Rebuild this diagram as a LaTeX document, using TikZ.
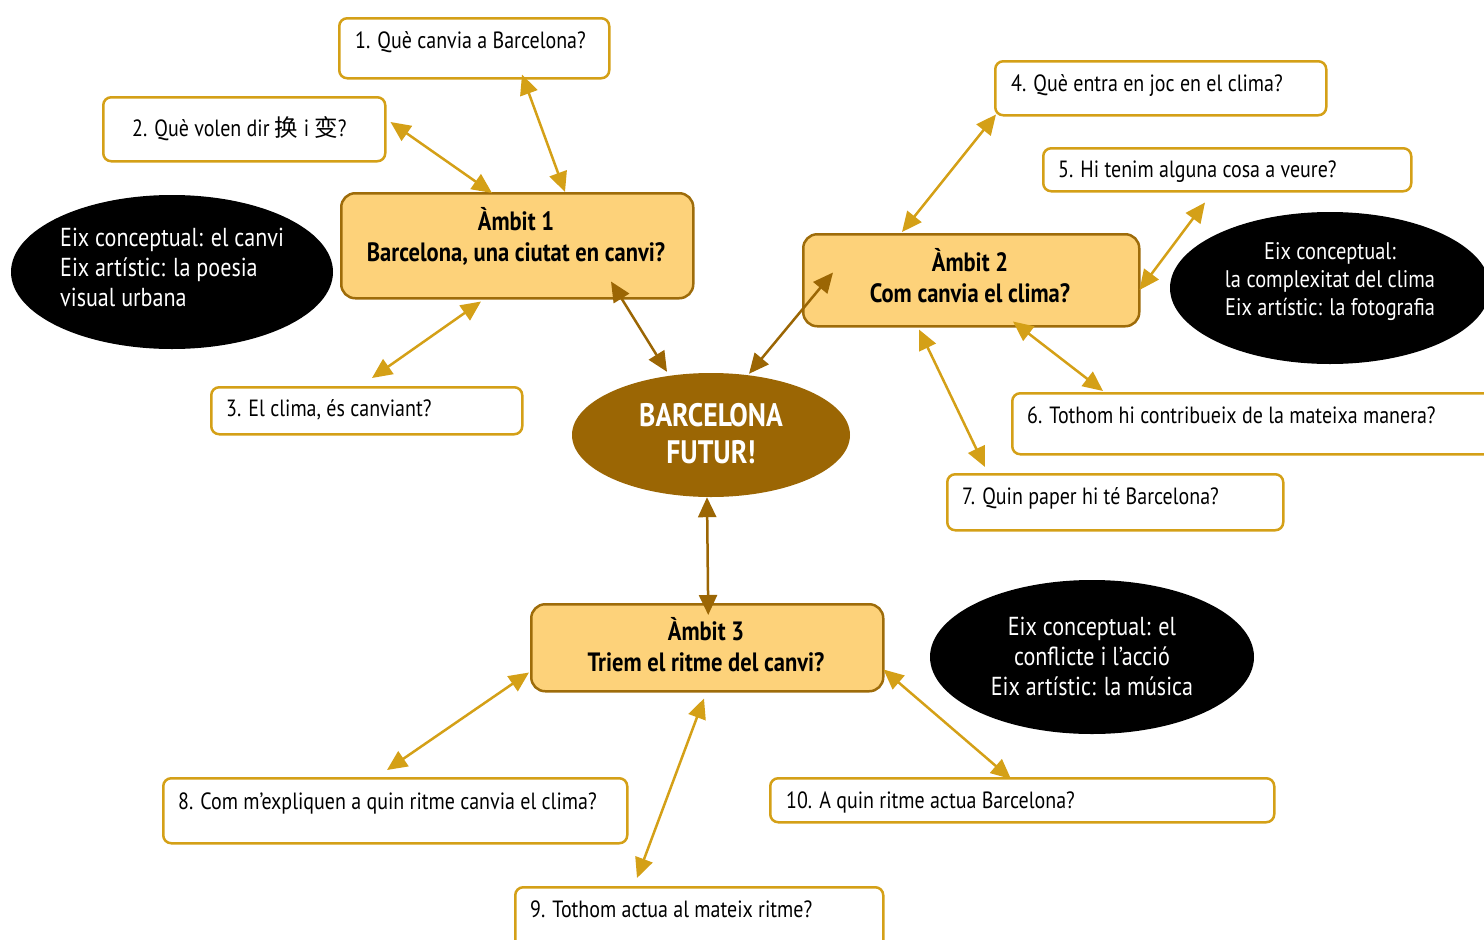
\documentclass[tikz,border=0pt]{standalone}
\usepackage{fontspec}
\setmainfont{PT Sans}[FakeStretch=0.85]
\newfontfamily\cjk{Noto Sans CJK SC}
\usetikzlibrary{arrows.meta,calc,shapes.geometric}
\definecolor{gold}{RGB}{212,160,23}
\definecolor{amfill}{RGB}{253,210,122}
\definecolor{amdraw}{RGB}{158,108,10}
\definecolor{brown}{RGB}{155,102,4}
\tikzset{
  qbox/.style={draw=gold,line width=2.5pt,rounded corners=8pt,fill=white,inner sep=0pt,anchor=north west},
  abox/.style={draw=amdraw,line width=2.5pt,rounded corners=14pt,fill=amfill,inner sep=0pt,anchor=north west},
  qtxt/.style={anchor=base west,inner sep=0pt,font=\fontsize{23.5}{27}\selectfont},
  atxt/.style={align=center,inner sep=0pt,font=\bfseries\fontsize{26.5}{31}\selectfont},
  blk/.style={ellipse,fill=black,inner sep=0pt},
  etxt/.style={text=white,inner sep=0pt,font=\fontsize{26}{30}\selectfont},
  garr/.style={draw=gold,line width=2.5pt,{Triangle[length=20pt,width=18pt]}-{Triangle[length=20pt,width=18pt]}},
  barr/.style={draw=brown,line width=2.5pt,{Triangle[length=20pt,width=18pt]}-{Triangle[length=20pt,width=18pt]}},
}
\begin{document}
\begin{tikzpicture}[x=1pt,y=-1pt]
\useasboundingbox (0,0) rectangle (1484,940);
\clip (0,0) rectangle (1484,940);
% black ellipses
\node[blk,minimum width=322,minimum height=154] (e1) at (172,272) {};
\node[blk,minimum width=320,minimum height=152] (e2) at (1330,288) {};
\node[blk,minimum width=324,minimum height=154] (e3) at (1092,657) {};
\node[etxt,anchor=west,align=left] (et1) at (60,267) {Eix conceptual: el canvi\\Eix artístic: la poesia\\visual urbana};
\node[etxt,align=center,font=\fontsize{24}{28}\selectfont] (et2) at (1330,282) {Eix conceptual:\\la complexitat del clima\\Eix artístic: la fotografia};
\node[etxt,align=center] (et3) at (1092,656) {Eix conceptual: el\\conflicte i l’acció\\Eix artístic: la música};
% question boxes
\node[qbox,minimum width=270,minimum height=60] (b1) at (338,17) {};
\node[qbox,minimum width=282,minimum height=64] (b2) at (102,96) {};
\node[qbox,minimum width=311,minimum height=47] (b3) at (210,386) {};
\node[qbox,minimum width=331,minimum height=54] (b4) at (994,60) {};
\node[qbox,minimum width=368,minimum height=43] (b5) at (1042,147) {};
\node[qbox,minimum width=490,minimum height=61] (b6) at (1011,392) {};
\node[qbox,minimum width=336,minimum height=56] (b7) at (946,473) {};
\node[qbox,minimum width=464,minimum height=65] (b8) at (162,777) {};
\node[qbox,minimum width=368,minimum height=70] (b9) at (514,886) {};
\node[qbox,minimum width=504,minimum height=44] (b10) at (769,777) {};
\node[qtxt] (t1) at (355,48) {1. Què canvia a Barcelona?};
\node[qtxt] (t2) at (132,136) {2. Què volen dir {\cjk 换} i {\cjk 变}?};
\node[qtxt] (t3) at (226,416) {3. El clima, és canviant?};
\node[qtxt] (t4) at (1011,91) {4. Què entra en joc en el clima?};
\node[qtxt] (t5) at (1058,177) {5. Hi tenim alguna cosa a veure?};
\node[qtxt] (t6) at (1027,423) {6. Tothom hi contribueix de la mateixa manera?};
\node[qtxt] (t7) at (962,504) {7. Quin paper hi té Barcelona?};
\node[qtxt] (t8) at (178,809) {8. Com m’expliquen a quin ritme canvia el clima?};
\node[qtxt] (t9) at (530,917) {9. Tothom actua al mateix ritme?};
\node[qtxt] (t10) at (786,808) {10. A quin ritme actua Barcelona?};
% ambit boxes
\node[abox,minimum width=352,minimum height=105] (a1) at (340,192) {};
\node[abox,minimum width=336,minimum height=92] (a2) at (802,233) {};
\node[abox,minimum width=352,minimum height=87] (a3) at (530,603) {};
\node[atxt] (at1) at (516,236) {Àmbit 1\\Barcelona, una ciutat en canvi?};
\node[atxt] (at2) at (970,276) {Àmbit 2\\Com canvia el clima?};
\node[atxt] (at3) at (706,645) {Àmbit 3\\Triem el ritme del canvi?};
% center
\node[ellipse,fill=brown,inner sep=0pt,minimum width=278,minimum height=124] (c) at (711,435) {};
\node[align=center,text=white,inner sep=0pt,font=\bfseries\fontsize{32.5}{37}\selectfont] (ct) at (711,434) {BARCELONA\\FUTUR!};
% connectors
\draw[garr] ($(b1.south west)+(184,-5)$) -- ($(a1.north west)+(225,0)$);
\draw[garr] ($(b2.north east)+(4,26)$) -- ($(a1.north west)+(152,1)$);
\draw[garr] ($(a1.south west)+(141,2)$) -- ($(b3.north west)+(162,-8)$);
\draw[barr] ($(a1.south west)+(271,-18)$) -- ($(c.north)+(-44,-1)$);
\draw[barr] ($(a2.south west)+(31,-55)$) -- ($(c.north)+(38,1)$);
\draw[barr] ($(c.south)+(-4,0)$) -- ($(a3.north)+(1,12)$);
\draw[garr] ($(b4.south west)+(2,-2)$) -- ($(a2.north west)+(100,-1)$);
\draw[garr] ($(b5.south west)+(163,10)$) -- ($(a2.north east)+(-1,57)$);
\draw[garr] ($(a2.south west)+(211,-6)$) -- ($(b6.north west)+(92,-1)$);
\draw[garr] ($(a2.south west)+(117,2)$) -- ($(b7.north west)+(39,-6)$);
\draw[garr] ($(a3.south west)+(-1,-20)$) -- ($(b8.north west)+(225,-7)$);
\draw[garr] ($(a3.south west)+(174,6)$) -- ($(b9.north west)+(123,-8)$);
\draw[garr] ($(a3.south east)+(-1,-23)$) -- ($(b10.north west)+(242,2)$);
\end{tikzpicture}
\end{document}
